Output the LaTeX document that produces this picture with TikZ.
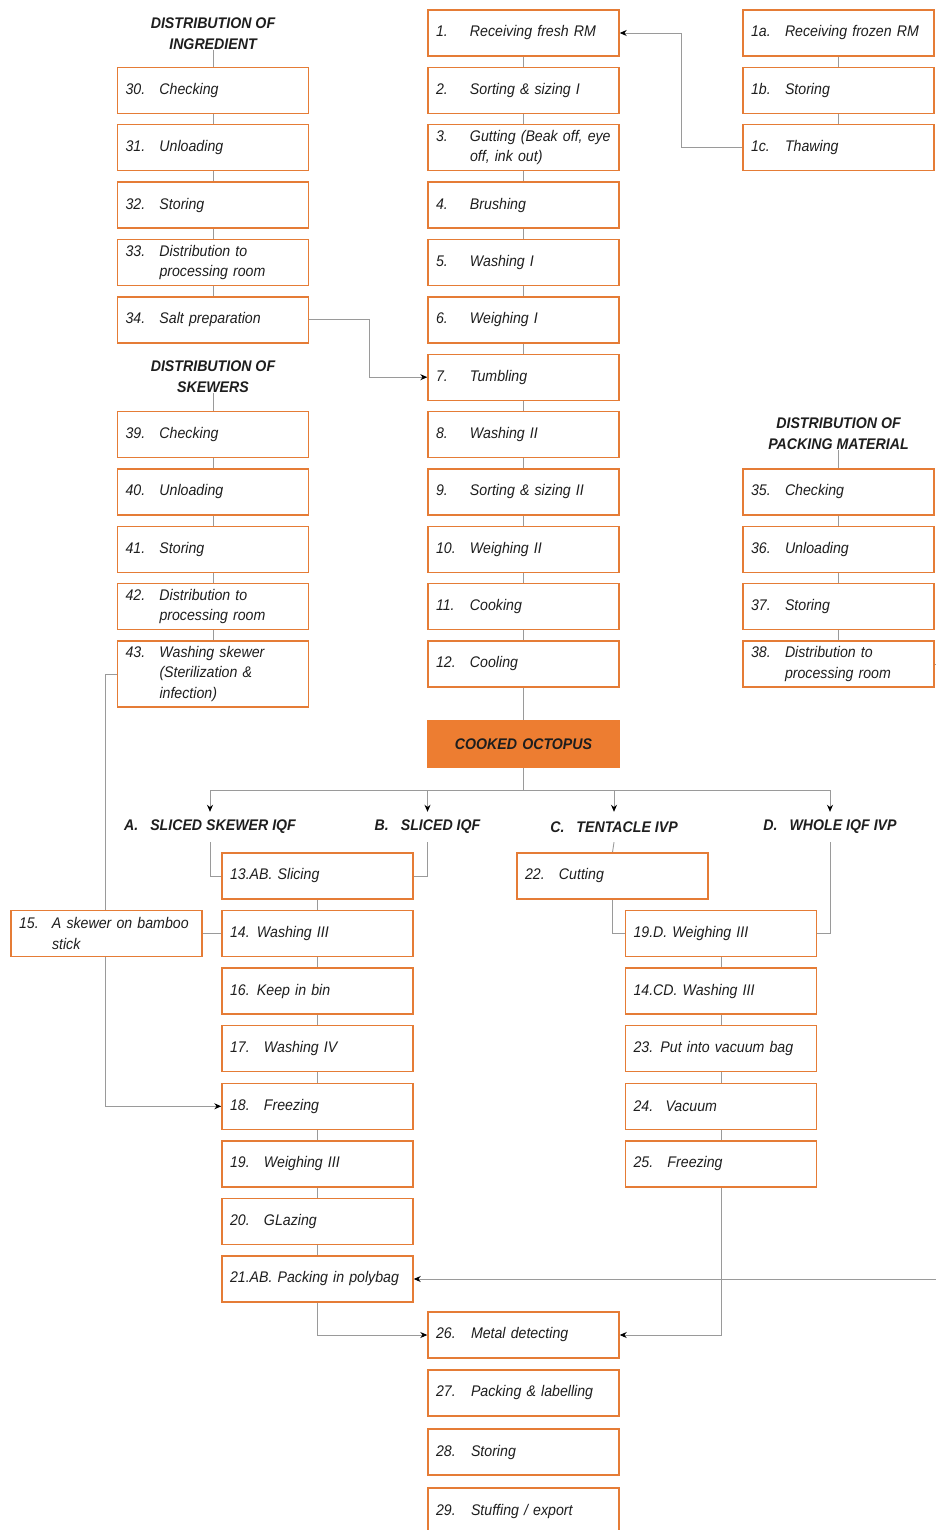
\documentclass[tikz,border=0pt]{standalone}
\usepackage{fontspec}
\setmainfont{Liberation Sans}[FakeStretch=0.92]
\usetikzlibrary{arrows.meta,backgrounds}
\definecolor{boxorange}{HTML}{E57C36}
\definecolor{fillorange}{HTML}{ED7D31}
\definecolor{linkgray}{HTML}{9A9A9A}
\definecolor{inkgray}{HTML}{1E1E1E}
% number column of fixed width, then the step text
\newcommand{\nt}[3]{\makebox[#1][l]{#2}#3}

\begin{document}
\begin{tikzpicture}[x=1pt,y=-1pt,
  every node/.style={font=\fontsize{15.4}{20.5}\selectfont\itshape, text=inkgray},
  stepbox/.style={draw=boxorange, line width=1.4pt, fill=white, minimum height=46pt,
    text width=175pt, inner xsep=8pt, inner ysep=3pt, align=left},
  headtext/.style={font=\fontsize{15.4}{21}\selectfont\bfseries\itshape, align=center, inner sep=0pt},
  branch/.style={font=\fontsize{15.4}{17}\selectfont\bfseries\itshape, inner sep=0pt, minimum height=30pt},
  link/.style={draw=linkgray, line width=0.9pt},
  arr/.style={link, -{Stealth[length=7pt,width=6pt,color=black]}}]

\useasboundingbox (0,0) rectangle (936,1530);

% ---------- main line ----------
\node[stepbox] (s1)  at (523.5,33)    {\nt{34pt}{1.}{Receiving fresh RM}};
\node[stepbox] (s2)  at (523.5,90.4)  {\nt{34pt}{2.}{Sorting \& sizing I}};
\node[stepbox] (s3)  at (523.5,147.7) {\nt{34pt}{3.}{Gutting (Beak off, eye\\\hspace*{34pt}off, ink out)}};
\node[stepbox] (s4)  at (523.5,205.1) {\nt{34pt}{4.}{Brushing}};
\node[stepbox] (s5)  at (523.5,262.4) {\nt{34pt}{5.}{Washing I}};
\node[stepbox] (s6)  at (523.5,319.8) {\nt{34pt}{6.}{Weighing I}};
\node[stepbox] (s7)  at (523.5,377.2) {\nt{34pt}{7.}{Tumbling}};
\node[stepbox] (s8)  at (523.5,434.5) {\nt{34pt}{8.}{Washing II}};
\node[stepbox] (s9)  at (523.5,491.9) {\nt{34pt}{9.}{Sorting \& sizing II}};
\node[stepbox] (s10) at (523.5,549.2) {\nt{34pt}{10.}{Weighing II}};
\node[stepbox] (s11) at (523.5,606.6) {\nt{34pt}{11.}{Cooking}};
\node[stepbox] (s12) at (523.5,664)   {\nt{34pt}{12.}{Cooling}};
\node[stepbox, fill=fillorange, draw=fillorange, align=center,
      font=\fontsize{15.4}{17}\selectfont\bfseries\itshape] (cook) at (523.5,744) {COOKED OCTOPUS};

% ---------- frozen raw material ----------
\node[stepbox] (s1a) at (838.5,33)    {\nt{34pt}{1a.}{Receiving frozen RM}};
\node[stepbox] (s1b) at (838.5,90.4)  {\nt{34pt}{1b.}{Storing}};
\node[stepbox] (s1c) at (838.5,147.7) {\nt{34pt}{1c.}{Thawing}};

% ---------- ingredient ----------
\node[headtext] (hing) at (213,33.5) {DISTRIBUTION OF\\INGREDIENT};
\node[stepbox] (s30) at (213,90.4)  {\nt{34pt}{30.}{Checking}};
\node[stepbox] (s31) at (213,147.7) {\nt{34pt}{31.}{Unloading}};
\node[stepbox] (s32) at (213,205.1) {\nt{34pt}{32.}{Storing}};
\node[stepbox] (s33) at (213,262.4) {\nt{34pt}{33.}{Distribution to\\\hspace*{34pt}processing room}};
\node[stepbox] (s34) at (213,319.8) {\nt{34pt}{34.}{Salt preparation}};

% ---------- skewers ----------
\node[headtext] (hskw) at (213,376.5) {DISTRIBUTION OF\\SKEWERS};
\node[stepbox] (s39) at (213,434.5) {\nt{34pt}{39.}{Checking}};
\node[stepbox] (s40) at (213,491.9) {\nt{34pt}{40.}{Unloading}};
\node[stepbox] (s41) at (213,549.2) {\nt{34pt}{41.}{Storing}};
\node[stepbox] (s42) at (213,606.6) {\nt{34pt}{42.}{Distribution to\\\hspace*{34pt}processing room}};
\node[stepbox, minimum height=66pt] (s43) at (213,674)
  {\nt{34pt}{43.}{Washing skewer\\\hspace*{34pt}(Sterilization \&\\\hspace*{34pt}infection)}};

% ---------- packing material ----------
\node[headtext] (hpck) at (838.5,433.5) {DISTRIBUTION OF\\PACKING MATERIAL};
\node[stepbox] (s35) at (838.5,491.9) {\nt{34pt}{35.}{Checking}};
\node[stepbox] (s36) at (838.5,549.2) {\nt{34pt}{36.}{Unloading}};
\node[stepbox] (s37) at (838.5,606.6) {\nt{34pt}{37.}{Storing}};
\node[stepbox] (s38) at (838.5,664)   {\nt{34pt}{38.}{Distribution to\\\hspace*{34pt}processing room}};

% ---------- product branches ----------
\node[branch] (hA) at (210,827)   {A.\hspace{12pt}SLICED SKEWER IQF};
\node[branch] (hB) at (427.5,827) {B.\hspace{12pt}SLICED IQF};
\node[branch] (hC) at (614,827)   {C.\hspace{12pt}TENTACLE IVP};
\node[branch] (hD) at (830,827)   {D.\hspace{12pt}WHOLE IQF IVP};

% branches A and B
\node[stepbox] (s13)  at (317.5,876)    {13.AB. Slicing};
\node[stepbox] (s14)  at (317.5,933.6)  {\nt{27pt}{14.}{Washing III}};
\node[stepbox] (s15)  at (106.5,933.6)  {\nt{33pt}{15.}{A skewer on bamboo\\\hspace*{33pt}stick}};
\node[stepbox] (s16)  at (317.5,991.1)  {\nt{27pt}{16.}{Keep in bin}};
\node[stepbox] (s17)  at (317.5,1048.7) {\nt{34pt}{17.}{Washing IV}};
\node[stepbox] (s18)  at (317.5,1106.3) {\nt{34pt}{18.}{Freezing}};
\node[stepbox] (s19)  at (317.5,1163.9) {\nt{34pt}{19.}{Weighing III}};
\node[stepbox] (s20)  at (317.5,1221.4) {\nt{34pt}{20.}{GLazing}};
\node[stepbox] (s21)  at (317.5,1279)   {21.AB. Packing in polybag};

% branches C and D
\node[stepbox] (s22)  at (612.5,876)    {\nt{34pt}{22.}{Cutting}};
\node[stepbox] (s19d) at (721,933.6)    {19.D. Weighing III};
\node[stepbox] (s14cd) at (721,991.1)   {14.CD. Washing III};
\node[stepbox] (s23)  at (721,1048.7)   {\nt{27pt}{23.}{Put into vacuum bag}};
\node[stepbox] (s24)  at (721,1106.3)   {\nt{32pt}{24.}{Vacuum}};
\node[stepbox] (s25)  at (721,1163.9)   {\nt{34pt}{25.}{Freezing}};

% common end
\node[stepbox] (s26) at (523.5,1335) {\nt{35pt}{26.}{Metal detecting}};
\node[stepbox] (s27) at (523.5,1393) {\nt{35pt}{27.}{Packing \& labelling}};
\node[stepbox] (s28) at (523.5,1452) {\nt{35pt}{28.}{Storing}};
\node[stepbox] (s29) at (523.5,1511) {\nt{35pt}{29.}{Stuffing / export}};

\coordinate (bus) at (523.5,790);
\coordinate (edgeA) at (936,1279);
\coordinate (edgeB) at (936,664);

\begin{pgfonlayer}{background}
  % straight chains
  \foreach \a/\b in {s1/s2,s2/s3,s3/s4,s4/s5,s5/s6,s6/s7,s7/s8,s8/s9,s9/s10,s10/s11,s11/s12,s12/cook,
                     s1a/s1b,s1b/s1c,
                     s30/s31,s31/s32,s32/s33,s33/s34,
                     s39/s40,s40/s41,s41/s42,s42/s43,
                     s35/s36,s36/s37,s37/s38,
                     s13/s14,s14/s16,s16/s17,s17/s18,s18/s19,s19/s20,s20/s21,
                     s19d/s14cd,s14cd/s23,s23/s24,s24/s25,
                     s15/s14}
    \draw[link] (\a) -- (\b);
  \draw[link] (hing.south) -- (s30);
  \draw[link] (hskw.south) -- (s39);
  \draw[link] (hpck.south) -- (s35);

  % feeds into the main line
  \draw[arr] (s1c.west) -- ++(-61,0) |- (s1.east);
  \draw[arr] (s34.east) -- ++(60,0) |- (s7.west);

  % split of the cooked product
  \draw[link] (cook) -- (bus);
  \draw[arr] (bus) -| (hA.north);
  \draw[arr] (bus) -| (hB.north);
  \draw[arr] (bus) -| (hC.north);
  \draw[arr] (bus) -| (hD.north);

  \draw[link] (hA.south) |- (s13.west);
  \draw[link] (hB.south) |- (s13.east);
  \draw[link] (hC.south) -- (s22.north);
  \draw[link] (s22.south) |- (s19d.west);
  \draw[link] (hD.south) |- (s19d.east);

  % skewers to freezing
  \draw[arr] (s43.west) -- ++(-11,0) |- (s18.west);

  % towards metal detection
  \draw[arr] (s21.south) |- (s26.west);
  \draw[arr] (s25.south) |- (s26.east);

  % packing material lines
  \draw[link] (s38.east) -- (edgeB);
  \draw[arr] (edgeA) -- (s21.east);
\end{pgfonlayer}
\end{tikzpicture}
\end{document}
